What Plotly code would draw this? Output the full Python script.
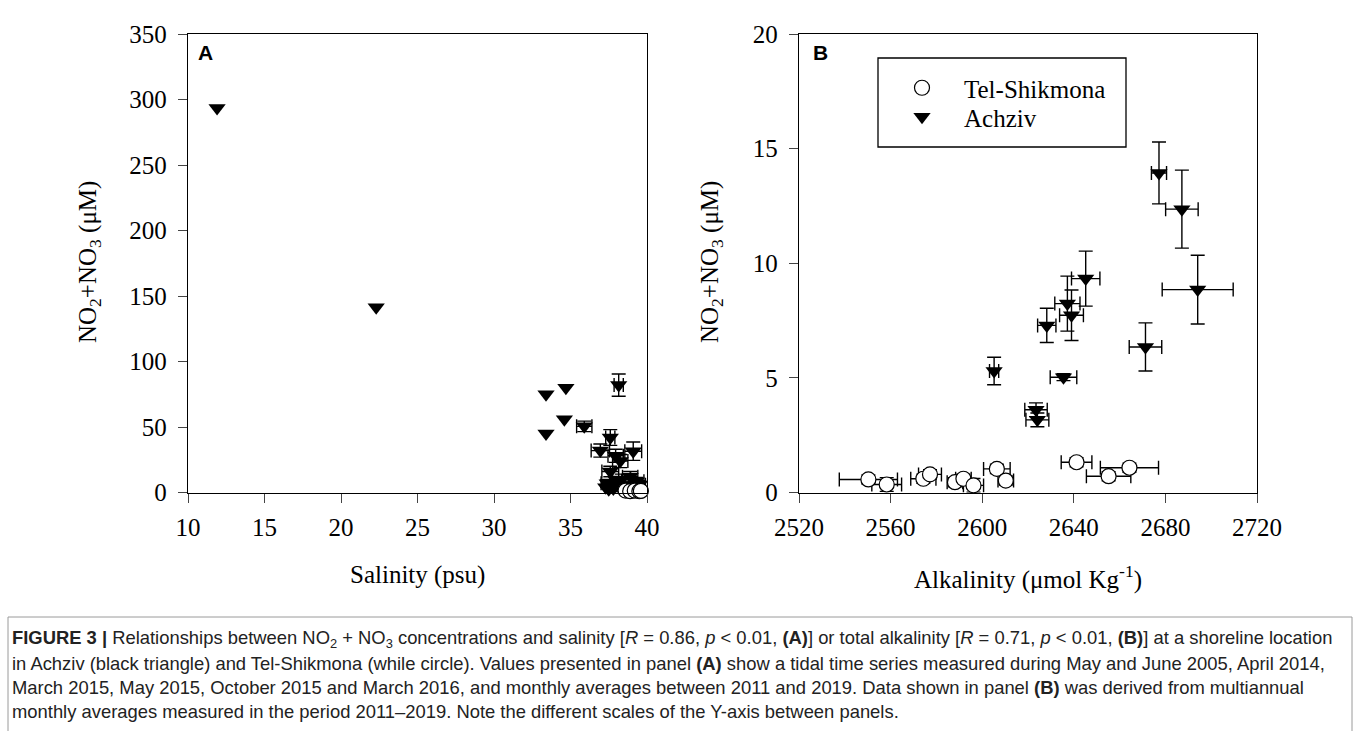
import plotly.graph_objects as go

# ---------------- Panel A: NO2+NO3 vs salinity ----------------
# Achziv, tidal time series (single measurements)
a_tidal_sal = [11.9, 22.3, 33.4, 34.7, 34.6, 33.4, 37.3, 37.5, 38.0, 38.4]
a_tidal_no = [293.5, 141.5, 75.0, 80.0, 56.0, 45.0, 4.0, 2.5, 6.0, 3.0]

# Achziv, monthly averages (with SE)
a_mon_sal = [35.9, 38.15, 37.6, 36.95, 39.1, 37.95, 38.25, 37.6, 38.35, 38.9, 39.3, 37.4,
             38.6, 38.0, 39.5, 37.8, 38.8, 39.2]
a_mon_no = [50.5, 82.0, 42.0, 32.0, 31.5, 28.0, 24.0, 16.0, 10.0, 12.0, 8.5, 7.0,
            5.0, 9.0, 6.0, 3.0, 4.0, 2.5]
a_mon_sal_err = [0.5, 0.3, 0.3, 0.6, 0.55, 0.5, 0.5, 0.55, 0.6, 0.5, 0.5, 0.4,
                 0.5, 0.4, 0.4, 0.5, 0.6, 0.5]
a_mon_no_err = [4.0, 8.5, 6.0, 5.0, 7.0, 5.0, 5.0, 4.0, 4.0, 4.0, 3.0, 3.0,
                3.0, 3.0, 3.0, 2.5, 3.0, 2.0]

# Tel-Shikmona, panel A
t_a_sal = [38.6, 38.9, 39.2, 39.5, 39.6]
t_a_no = [1.5, 1.0, 1.5, 1.0, 1.2]
t_a_sal_err = [0.2, 0.2, 0.2, 0.2, 0.2]

# ---------------- Panel B: NO2+NO3 vs alkalinity ----------------
a_b_alk = [2677.2, 2687.2, 2694.1, 2671.3, 2645.2, 2637.2, 2639.0, 2628.2, 2605.2, 2635.5, 2623.5, 2624.1]
a_b_no = [13.94, 12.36, 8.85, 6.35, 9.33, 8.24, 7.73, 7.29, 5.30, 5.03, 3.61, 3.17]
a_b_alk_err = [3.3, 7.1, 15.5, 7.1, 6.2, 5.5, 5.2, 4.0, 2.0, 5.8, 4.9, 5.0]
a_b_no_err = [1.35, 1.7, 1.5, 1.05, 1.2, 1.2, 1.1, 0.75, 0.6, 0.15, 0.3, 0.3]

t_b_alk = [2550.3, 2558.3, 2574.3, 2577.2, 2588.1, 2591.8, 2596.2, 2606.4, 2610.3, 2641.2, 2664.3, 2655.2]
t_b_no = [0.57, 0.35, 0.60, 0.79, 0.45, 0.60, 0.31, 1.03, 0.52, 1.32, 1.08, 0.71]
t_b_alk_err = [12.7, 6.5, 5.5, 5.0, 3.4, 3.4, 4.4, 5.8, 3.4, 6.7, 12.7, 9.7]
t_b_no_err = [0.2, 0.3, 0.2, 0.2, 0.2, 0.2, 0.3, 0.2, 0.2, 0.2, 0.2, 0.2]

# ---------------- styling ----------------
W, H = 1360, 731
SERIF = "Liberation Serif, Times New Roman, serif"
SANS = "Liberation Sans, Arial, sans-serif"
FS = 25
TRI = dict(symbol="triangle-down", size=15, color="black", line=dict(width=0))
CIR = dict(symbol="circle", size=15, color="white", line=dict(width=1.2, color="black"))
EB = dict(color="black", thickness=1.4, width=7)

fig = go.Figure()

# Panel A traces
fig.add_trace(go.Scatter(x=a_tidal_sal, y=a_tidal_no, mode="markers", marker=TRI,
                         xaxis="x", yaxis="y", showlegend=False, cliponaxis=False))
fig.add_trace(go.Scatter(x=a_mon_sal, y=a_mon_no, mode="markers", marker=TRI,
                         error_x=dict(type="data", array=a_mon_sal_err, **EB),
                         error_y=dict(type="data", array=a_mon_no_err, **EB),
                         xaxis="x", yaxis="y", showlegend=False, cliponaxis=False))
fig.add_trace(go.Scatter(x=t_a_sal, y=t_a_no, mode="markers", marker=CIR,
                         error_x=dict(type="data", array=t_a_sal_err, **EB),
                         xaxis="x", yaxis="y", showlegend=False, cliponaxis=False))

# Panel B traces (each in its own legend row)
fig.add_trace(go.Scatter(x=t_b_alk, y=t_b_no, mode="markers", marker=CIR, name="Tel-Shikmona",
                         error_x=dict(type="data", array=t_b_alk_err, **EB),
                         error_y=dict(type="data", array=t_b_no_err, **EB),
                         xaxis="x2", yaxis="y2", cliponaxis=False, legend="legend"))
fig.add_trace(go.Scatter(x=a_b_alk, y=a_b_no, mode="markers", marker=TRI, name="Achziv",
                         error_x=dict(type="data", array=a_b_alk_err, **EB),
                         error_y=dict(type="data", array=a_b_no_err, **EB),
                         xaxis="x2", yaxis="y2", cliponaxis=False, legend="legend2"))

ax_common = dict(showline=True, linecolor="black", linewidth=1.3, mirror=True,
                 ticks="outside", ticklen=9, tickwidth=1, tickcolor="#444",
                 showgrid=False, zeroline=False, automargin=False,
                 tickfont=dict(family=SERIF, size=FS, color="black"))

ydom = [1 - 492.5 / H, 1 - 34 / H]


def px(x):
    return x / W


def py(y):
    return 1 - y / H


leg_common = dict(xanchor="left", yanchor="middle", bgcolor="rgba(0,0,0,0)", borderwidth=0,
                  itemwidth=74, font=dict(family=SERIF, size=FS, color="black"))

fig.update_layout(
    width=W, height=H, margin=dict(l=0, r=0, t=0, b=0),
    paper_bgcolor="white", plot_bgcolor="white",
    xaxis=dict(domain=[188 / W, 647 / W], range=[10, 40], tick0=10, dtick=5,
               ticklabelstandoff=3, anchor="y", **ax_common),
    yaxis=dict(domain=ydom, range=[0, 350], tick0=0, dtick=50,
               ticklabelstandoff=6, anchor="x", **ax_common),
    xaxis2=dict(domain=[799 / W, 1257 / W], range=[2520, 2720], tick0=2520, dtick=40,
                ticklabelstandoff=3, anchor="y2", **ax_common),
    yaxis2=dict(domain=ydom, range=[0, 20], tick0=0, dtick=5,
                ticklabelstandoff=6, anchor="x2", **ax_common),
    showlegend=True,
    legend=dict(x=px(880), y=py(88), **leg_common),
    legend2=dict(x=px(880), y=py(117), **leg_common),
)

shapes = [
    # legend frame
    dict(type="rect", xref="paper", yref="paper", x0=px(878), x1=px(1126), y0=py(147), y1=py(58),
         line=dict(color="black", width=1.3)),
    # caption frame
    dict(type="rect", xref="paper", yref="paper", x0=px(8), x1=px(1352), y0=py(760), y1=py(617),
         line=dict(color="#9a9a9a", width=1)),
]
fig.update_layout(shapes=shapes)

ann = []
# axis titles
ann.append(dict(text="NO<sub>2</sub>+NO<sub>3</sub> (μM)", x=px(89), y=py(262), textangle=-90,
                font=dict(family=SERIF, size=FS, color="black")))
ann.append(dict(text="NO<sub>2</sub>+NO<sub>3</sub> (μM)", x=px(711), y=py(262), textangle=-90,
                font=dict(family=SERIF, size=FS, color="black")))
ann.append(dict(text="Salinity (psu)", x=px(417.5), y=py(575),
                font=dict(family=SERIF, size=FS, color="black")))
ann.append(dict(text="Alkalinity (μmol Kg<sup>-1</sup>)", x=px(1028), y=py(577),
                font=dict(family=SERIF, size=FS, color="black")))
# panel letters
ann.append(dict(text="<b>A</b>", x=px(205), y=py(53),
                font=dict(family=SANS, size=21, color="black")))
ann.append(dict(text="<b>B</b>", x=px(820), y=py(53),
                font=dict(family=SANS, size=21, color="black")))

cap_lines = [
    "<b>FIGURE 3 |</b> Relationships between NO<sub>2</sub> + NO<sub>3</sub> concentrations and salinity "
    "[<i>R</i> = 0.86, <i>p</i> &lt; 0.01, <b>(A)</b>] or total alkalinity [<i>R</i> = 0.71, <i>p</i> &lt; 0.01, "
    "<b>(B)</b>] at a shoreline location",
    "in Achziv (black triangle) and Tel-Shikmona (while circle). Values presented in panel <b>(A)</b> show a "
    "tidal time series measured during May and June 2005, April 2014,",
    "March 2015, May 2015, October 2015 and March 2016, and monthly averages between 2011 and 2019. "
    "Data shown in panel <b>(B)</b> was derived from multiannual",
    "monthly averages measured in the period 2011–2019. Note the different scales of the Y-axis between panels.",
]
cap_y = [639, 663, 687, 711]
for t, yy in zip(cap_lines, cap_y):
    ann.append(dict(text=t, x=px(10), y=py(yy), xanchor="left", yanchor="middle",
                    font=dict(family=SANS, size=18.4, color="#222")))

for a in ann:
    a.setdefault("xref", "paper")
    a.setdefault("yref", "paper")
    a.setdefault("showarrow", False)
    a.setdefault("xanchor", "center")
    a.setdefault("yanchor", "middle")
fig.update_layout(annotations=ann)

fig.write_html("out.html")
